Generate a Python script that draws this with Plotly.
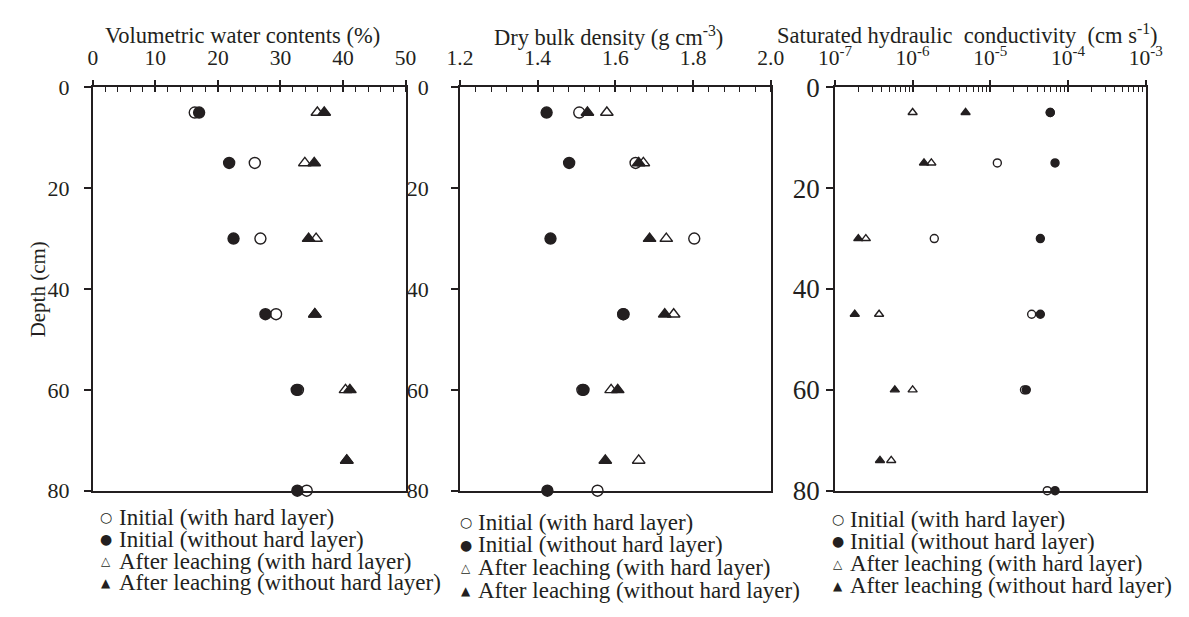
import plotly.graph_objects as go

# ---------------- data ----------------
depth = [5, 15, 30, 45, 60, 74, 80]

vwc_init_with = [16.3, 25.9, 26.8, 29.3, 32.8, None, 34.2]
vwc_init_without = [17.0, 21.8, 22.5, 27.6, 32.6, None, 32.7]
vwc_after_with = [35.9, 33.9, 35.7, 35.5, 40.4, 40.6, None]
vwc_after_without = [37.0, 35.4, 34.5, 35.5, 41.1, 40.6, None]

bd_init_with = [1.507, 1.652, 1.803, 1.62, 1.515, None, 1.554]
bd_init_without = [1.423, 1.481, 1.433, 1.621, 1.518, None, 1.425]
bd_after_with = [1.578, 1.672, 1.731, 1.750, 1.589, 1.660, None]
bd_after_without = [1.528, 1.660, 1.688, 1.727, 1.606, 1.574, None]

ks_init_with = [5.9e-5, 1.23e-5, 1.9e-6, 3.4e-5, 2.75e-5, None, 5.4e-5]
ks_init_without = [5.9e-5, 6.8e-5, 4.4e-5, 4.4e-5, 2.9e-5, None, 6.8e-5]
ks_after_with = [1.0e-6, 1.74e-6, 2.5e-7, 3.7e-7, 1.0e-6, 5.3e-7, None]
ks_after_without = [4.8e-6, 1.4e-6, 2.0e-7, 1.8e-7, 5.9e-7, 3.8e-7, None]

series_names = ["Initial (with hard layer)", "Initial (without hard layer)",
                "After leaching (with hard layer)", "After leaching (without hard layer)"]

titles = ["Volumetric water contents (%)",
          "Dry bulk density (g cm<sup>-3</sup>)",
          "Saturated hydraulic  conductivity  (cm s<sup>-1</sup>)"]

vwc_ticks = [0, 10, 20, 30, 40, 50]
bd_ticks = [1.2, 1.4, 1.6, 1.8, 2.0]
ks_ticks = [1e-7, 1e-6, 1e-5, 1e-4, 1e-3]
ks_ticktext = ["10<sup>-7</sup>", "10<sup>-6</sup>", "10<sup>-5</sup>",
               "10<sup>-4</sup>", "10<sup>-3</sup>"]
depth_ticks = [0, 20, 40, 60, 80]

# ---------------- styling ----------------
W, H = 1189, 617
INK = "#231f20"
FONT = "Liberation Serif"

def px(x):
    return x / W

def py(y):
    return 1 - y / H

styles = [
    dict(symbol="circle", color="white"),
    dict(symbol="circle", color=INK),
    dict(symbol="triangle-up", color="white"),
    dict(symbol="triangle-up", color=INK),
]

fig = go.Figure()

panels = [
    (vwc_init_with, vwc_init_without, vwc_after_with, vwc_after_without),
    (bd_init_with, bd_init_without, bd_after_with, bd_after_without),
    (ks_init_with, ks_init_without, ks_after_with, ks_after_without),
]
marker_sizes = [11, 11, 8]

for p, data in enumerate(panels):
    xa = "x" if p == 0 else f"x{p+1}"
    ya = "y" if p == 0 else f"y{p+1}"
    for s, vals in enumerate(data):
        st = styles[s]
        fig.add_trace(go.Scatter(
            x=vals, y=depth, mode="markers", name=series_names[s],
            xaxis=xa, yaxis=ya, cliponaxis=False, showlegend=False,
            marker=dict(symbol=st["symbol"], size=marker_sizes[p], color=st["color"],
                        line=dict(color=INK, width=1.4)),
        ))

ydom = [py(500), py(76)]

common_x = dict(side="top", showline=True, mirror=True, linecolor=INK, linewidth=1.6,
                ticks="outside", ticklen=6, tickwidth=1.5, tickcolor=INK,
                showgrid=False, zeroline=False, ticklabelstandoff=6,
                tickfont=dict(family=FONT, size=21.5, color=INK))
common_y = dict(range=[80, 0], tickmode="array", tickvals=depth_ticks,
                showline=True, mirror=True, linecolor=INK, linewidth=1.6,
                ticks="outside", ticklen=7, tickwidth=1.5, tickcolor=INK,
                showgrid=False, zeroline=False)

minor_common = dict(ticks="inside", ticklen=5, tickwidth=1.2, tickcolor=INK, showgrid=False)
# overlay axes that draw the inner half of the major ticks (ticks cross the top line)
inner_major = dict(side="top", ticks="inside", ticklen=5, tickwidth=1.5, tickcolor=INK,
                   showticklabels=False, showline=False, showgrid=False, zeroline=False)

fig.update_layout(
    xaxis=dict(common_x, domain=[px(78), px(400)], anchor="y", range=[0, 50],
               tickmode="array", tickvals=vwc_ticks,
               minor=dict(minor_common, tickmode="linear", tick0=0, dtick=2)),
    xaxis2=dict(common_x, domain=[px(456), px(776)], anchor="y2", range=[1.2, 2.0],
                tickmode="array", tickvals=bd_ticks, ticktext=[f"{v:.1f}" for v in bd_ticks],
                minor=dict(minor_common, tickmode="linear", tick0=1.2, dtick=0.04)),
    xaxis3=dict(common_x, domain=[px(842), px(1162)], anchor="y3", type="log", range=[-7, -3],
                tickmode="array", tickvals=ks_ticks, ticktext=ks_ticktext,
                minor=dict(minor_common, tickmode="array",
                           tickvals=[k * 10.0 ** e for e in range(-7, -3) for k in range(2, 10)])),
    xaxis4=dict(inner_major, overlaying="x", anchor="y", range=[0, 50],
                tickmode="array", tickvals=vwc_ticks),
    xaxis5=dict(inner_major, overlaying="x2", anchor="y2", range=[1.2, 2.0],
                tickmode="array", tickvals=bd_ticks),
    xaxis6=dict(inner_major, overlaying="x3", anchor="y3", type="log", range=[-7, -3],
                tickmode="array", tickvals=ks_ticks),
    yaxis=dict(common_y, domain=ydom, anchor="x", ticklabelstandoff=10,
               tickfont=dict(family=FONT, size=22, color=INK)),
    yaxis2=dict(common_y, domain=ydom, anchor="x2", ticklabelstandoff=18,
                tickfont=dict(family=FONT, size=22, color=INK)),
    yaxis3=dict(common_y, domain=ydom, anchor="x3", ticklabelstandoff=1,
                tickfont=dict(family=FONT, size=27, color=INK)),
)

# invisible traces so the overlay axes are drawn
for xa, ya, vals in (("x4", "y", vwc_init_with), ("x5", "y2", bd_init_with), ("x6", "y3", ks_init_with)):
    fig.add_trace(go.Scatter(x=vals, y=depth, xaxis=xa, yaxis=ya, mode="markers",
                             marker=dict(opacity=0), showlegend=False, hoverinfo="skip"))

annotations = []
# titles
title_pos = [(232, 22), (609, 22), (978, 20)]
for t, (x, y) in zip(titles, title_pos):
    annotations.append(dict(text=t, x=px(x), y=py(y), xref="paper", yref="paper",
                            xanchor="center", yanchor="middle", showarrow=False,
                            font=dict(family=FONT, size=22.5, color=INK)))
# y-axis title
annotations.append(dict(text="Depth (cm)", x=px(22), y=py(288), xref="paper", yref="paper",
                        textangle=-90, xanchor="center", yanchor="middle", showarrow=False,
                        font=dict(family=FONT, size=21, color=INK)))

# legends (one per panel)
legend_symbols = ["○", "●", "△", "▲"]
legend_sym_sizes = [14, 14, 12, 12]
legend_layout = [
    (92, 103, [528, 551, 574, 597]),
    (462, 472, [533, 557, 581, 605]),
    (845, 855, [530, 553, 577, 600]),
]
for sx, tx, rows in legend_layout:
    for i, ry in enumerate(rows):
        annotations.append(dict(text=legend_symbols[i], x=px(sx), y=py(ry),
                                xref="paper", yref="paper", xanchor="center", yanchor="middle",
                                showarrow=False,
                                font=dict(family="DejaVu Sans", size=legend_sym_sizes[i], color=INK)))
        annotations.append(dict(text=series_names[i], x=px(tx), y=py(ry),
                                xref="paper", yref="paper", xanchor="left", yanchor="middle",
                                showarrow=False,
                                font=dict(family=FONT, size=23, color=INK)))

fig.update_layout(
    width=W, height=H, autosize=False,
    margin=dict(l=0, r=0, t=0, b=0),
    paper_bgcolor="white", plot_bgcolor="white",
    showlegend=False,
    annotations=annotations,
)

fig.write_html("out.html")
